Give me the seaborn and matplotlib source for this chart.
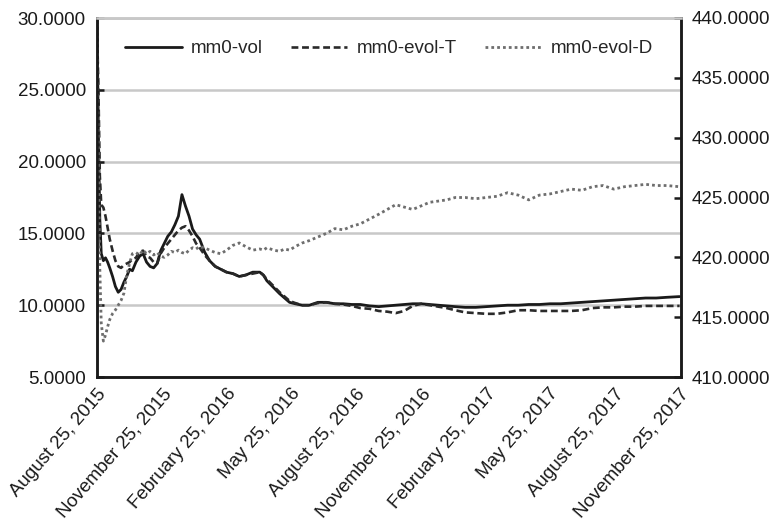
import matplotlib
matplotlib.use("Agg")
import matplotlib.pyplot as plt
import matplotlib.dates as mdates
from matplotlib.ticker import FixedLocator, FormatStrFormatter
import seaborn as sns
import pandas as pd

# ---------------- data ----------------
start_date = "2015-08-25"
day_offsets = [0, 2, 4, 6, 9, 12, 15, 18, 22, 26, 30, 34, 38, 42, 46, 50, 55, 60, 65, 70,
               75, 80, 85, 90, 95, 100, 105, 110, 115, 120, 125, 130, 135, 140, 145, 152,
               159, 167, 175, 183, 192, 201, 210, 220, 230, 235, 240, 250, 258, 265, 272,
               280, 290, 300, 312, 324, 336, 348, 360, 372, 385, 398, 410, 422, 434, 446,
               458, 470, 482, 494, 506, 520, 535, 550, 565, 580, 595, 610, 625, 640, 655,
               670, 685, 700, 715, 730, 745, 760, 775, 790, 805, 823]

mm0_vol = [29.8, 22.0, 16.0, 13.6, 13.1, 13.3, 13.0, 12.6, 12.0, 11.3, 10.9, 11.1, 11.6, 12.0,
           12.5, 12.4, 13.0, 13.4, 13.6, 13.0, 12.7, 12.6, 12.9, 13.8, 14.3, 14.8, 15.1, 15.6,
           16.2, 17.7, 16.9, 16.2, 15.3, 14.9, 14.6, 13.7, 13.1, 12.7, 12.5, 12.3, 12.2, 12.0,
           12.1, 12.3, 12.3, 12.1, 11.7, 11.2, 10.8, 10.5, 10.2, 10.1, 10.0, 10.0, 10.2, 10.2,
           10.1, 10.1, 10.05, 10.05, 9.95, 9.9, 9.95, 10.0, 10.05, 10.1, 10.1, 10.05, 10.0,
           9.95, 9.9, 9.85, 9.85, 9.9, 9.95, 10.0, 10.0, 10.05, 10.05, 10.1, 10.1, 10.15,
           10.2, 10.25, 10.3, 10.35, 10.4, 10.45, 10.5, 10.5, 10.55, 10.6]

mm0_evol_T = [29.5, 25.0, 19.0, 17.0, 16.8, 16.2, 15.4, 14.6, 13.8, 13.1, 12.7, 12.6, 12.8,
              12.9, 13.0, 13.2, 13.3, 13.7, 13.8, 13.4, 13.3, 13.0, 12.9, 13.6, 14.0, 14.3,
              14.6, 14.9, 15.2, 15.4, 15.5, 15.2, 14.8, 14.3, 14.0, 13.5, 13.1, 12.7, 12.5,
              12.3, 12.2, 12.0, 12.1, 12.2, 12.3, 12.1, 11.8, 11.3, 10.9, 10.6, 10.3, 10.15,
              10.0, 10.0, 10.15, 10.2, 10.1, 10.05, 9.95, 9.8, 9.75, 9.6, 9.55, 9.45, 9.6,
              9.95, 10.1, 10.0, 9.9, 9.8, 9.65, 9.5, 9.45, 9.4, 9.4, 9.5, 9.65, 9.65, 9.6,
              9.6, 9.6, 9.6, 9.65, 9.8, 9.85, 9.85, 9.9, 9.9, 9.95, 9.95, 9.95, 9.95]

mm0_evol_D = [439.5, 428.0, 419.0, 414.5, 413.0, 413.5, 414.2, 414.8, 415.3, 415.6, 416.0,
              416.4, 417.0, 418.5, 419.5, 420.3, 420.4, 420.2, 420.6, 420.3, 420.5, 420.2,
              420.4, 420.1, 420.0, 420.2, 420.5, 420.4, 420.6, 420.4, 420.3, 420.6, 420.8,
              420.7, 420.9, 420.8, 420.6, 420.4, 420.3, 420.6, 421.0, 421.2, 420.9, 420.6,
              420.7, 420.6, 420.8, 420.6, 420.5, 420.7, 420.6, 420.9, 421.2, 421.4, 421.7,
              422.0, 422.4, 422.3, 422.6, 422.8, 423.2, 423.6, 424.0, 424.4, 424.2, 424.0,
              424.3, 424.6, 424.7, 424.8, 425.0, 425.0, 424.9, 425.0, 425.1, 425.4, 425.2,
              424.8, 425.2, 425.3, 425.5, 425.7, 425.6, 425.9, 426.0, 425.7, 425.9, 426.0,
              426.1, 426.0, 426.0, 425.9]

tick_dates = ["2015-08-25", "2015-11-25", "2016-02-25", "2016-05-25", "2016-08-25",
              "2016-11-25", "2017-02-25", "2017-05-25", "2017-08-25", "2017-11-25"]
left_ticks = [5, 10, 15, 20, 25, 30]
right_ticks = [410, 415, 420, 425, 430, 435, 440]

# ---------------- build ----------------
dates = pd.to_datetime(start_date) + pd.to_timedelta(day_offsets, unit="D")
df = pd.DataFrame({"date": dates, "vol": mm0_vol, "evolT": mm0_evol_T, "evolD": mm0_evol_D})

sns.set_style("white")
plt.rcParams["font.family"] = ["Liberation Sans", "DejaVu Sans"]
FS = 13.5

fig, ax = plt.subplots(figsize=(7.73, 5.25), dpi=100)
fig.subplots_adjust(left=97/773, right=681/773, top=1-18/525, bottom=1-377/525)
ax2 = ax.twinx()

sns.lineplot(data=df, x="date", y="vol", ax=ax, color="#1a1a1a", lw=2.0,
             label="mm0-vol", legend=False)
sns.lineplot(data=df, x="date", y="evolT", ax=ax, color="#2a2a2a", lw=1.9,
             linestyle=(0, (2.6, 1.4)), label="mm0-evol-T", legend=False)
sns.lineplot(data=df, x="date", y="evolD", ax=ax2, color="#6e6e6e", lw=2.0,
             linestyle=(0, (1, 1.1)), label="mm0-evol-D", legend=False)

ax.set_ylim(5, 30)
ax2.set_ylim(410, 440)
ax.set_xlim(pd.Timestamp("2015-08-25"), pd.Timestamp("2017-11-27"))

ax.yaxis.set_major_locator(FixedLocator(left_ticks))
ax.yaxis.set_major_formatter(FormatStrFormatter("%.4f"))
ax2.yaxis.set_major_locator(FixedLocator(right_ticks))
ax2.yaxis.set_major_formatter(FormatStrFormatter("%.4f"))

ax.xaxis.set_major_locator(FixedLocator(mdates.date2num(pd.to_datetime(tick_dates))))
ax.xaxis.set_major_formatter(mdates.DateFormatter("%B %d, %Y"))
for lab in ax.get_xticklabels():
    lab.set_rotation(49)
    lab.set_ha("right")
    lab.set_rotation_mode("anchor")
    lab.set_fontsize(FS)

ax.set_xlabel("")
ax.set_ylabel("")
ax2.set_ylabel("")

ax.grid(axis="y", color="#c8c8c8", lw=1.8)
ax.grid(axis="x", visible=False)
ax2.grid(False)
ax.set_axisbelow(True)

for a in (ax, ax2):
    for s in ("left", "bottom", "right"):
        a.spines[s].set_color("#1a1a1a")
        a.spines[s].set_linewidth(1.8)
    a.spines["top"].set_color("#c8c8c8")
    a.spines["top"].set_linewidth(1.8)

ax.tick_params(axis="both", direction="in", length=5, width=1.8, colors="#1a1a1a",
               labelcolor="#1a1a1a")
ax.tick_params(axis="y", pad=8, labelsize=FS)
ax.tick_params(axis="x", pad=6)
ax2.tick_params(axis="y", direction="in", length=5, width=1.8, colors="#1a1a1a",
                labelsize=FS, labelcolor="#1a1a1a", pad=8)

h1, l1 = ax.get_legend_handles_labels()
h2, l2 = ax2.get_legend_handles_labels()
ax.legend(h1 + h2, l1 + l2, loc="upper center", bbox_to_anchor=(0.5, 0.985), ncol=3,
          frameon=False, fontsize=FS, handlelength=3.0, handletextpad=0.5,
          columnspacing=1.5)

fig.savefig("out.png", dpi=100)
